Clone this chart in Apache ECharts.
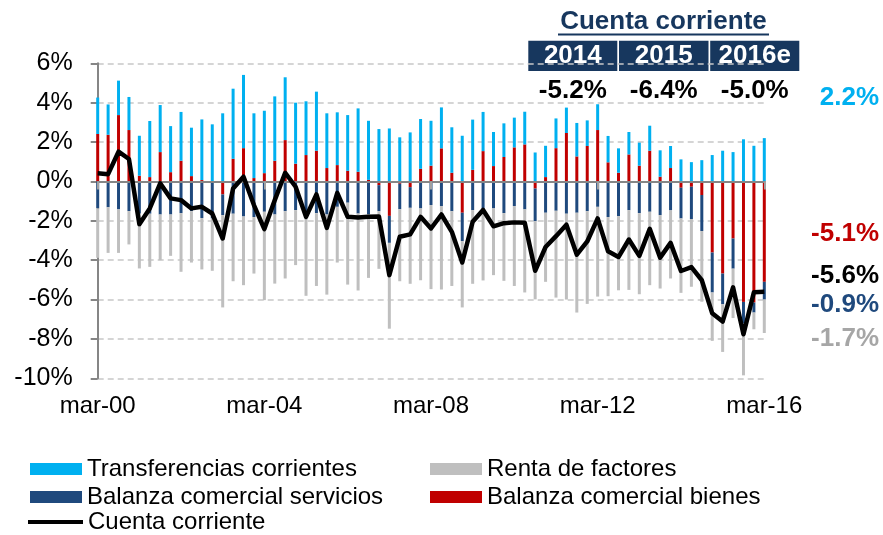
<!DOCTYPE html>
<html>
<head>
<meta charset="utf-8">
<script src="https://cdn.jsdelivr.net/npm/echarts@6/dist/echarts.min.js"></script>
<style>html,body{margin:0;padding:0;background:#fff}#c{width:883px;height:535px}</style>
</head>
<body>
<div id="c"></div>
<script>
var categories = [
 'mar-00','jun-00','sep-00','dic-00','mar-01','jun-01','sep-01','dic-01',
 'mar-02','jun-02','sep-02','dic-02','mar-03','jun-03','sep-03','dic-03',
 'mar-04','jun-04','sep-04','dic-04','mar-05','jun-05','sep-05','dic-05',
 'mar-06','jun-06','sep-06','dic-06','mar-07','jun-07','sep-07','dic-07',
 'mar-08','jun-08','sep-08','dic-08','mar-09','jun-09','sep-09','dic-09',
 'mar-10','jun-10','sep-10','dic-10','mar-11','jun-11','sep-11','dic-11',
 'mar-12','jun-12','sep-12','dic-12','mar-13','jun-13','sep-13','dic-13',
 'mar-14','jun-14','sep-14','dic-14','mar-15','jun-15','sep-15','dic-15',
 'mar-16'];

var bienes = [2.41,2.37,3.37,2.61,0.29,0.22,1.49,0.47,1.05,0.27,0.07,0,-0.66,1.15,1.69,0.17,
 0.42,1.05,2.10,0.90,1.34,1.56,0.68,0.83,0.54,0.49,0.08,-0.19,-1.75,-0.12,-0.29,0.64,
 0.80,1.68,0.44,-1.59,0.59,1.54,0.78,1.24,1.73,1.88,-0.36,0.22,1.69,2.46,1.27,1.80,
 2.61,0.97,0.44,1.37,0.80,1.56,0.24,0.68,-0.32,-0.27,-0.69,-3.61,-4.68,-2.90,-6.12,-6.15,
 -5.1];
var transferencias = [1.85,1.54,1.75,1.68,2.03,2.85,2.39,2.34,2.48,2.46,3.08,2.90,3.46,3.56,3.72,3.29,
 3.17,3.27,3.19,3.10,2.73,3.00,2.78,2.68,2.83,3.22,3.00,2.66,2.69,2.24,2.49,2.53,
 2.28,2.08,2.31,2.32,2.55,1.99,1.73,1.71,1.51,1.66,1.47,1.59,1.51,1.29,1.70,1.30,
 1.31,1.34,1.24,1.14,1.17,1.27,1.34,1.12,1.12,0.98,1.08,1.34,1.56,1.49,2.14,1.81,
 2.2];
var servicios = [-1.37,-1.31,-1.42,-1.51,-1.64,-1.64,-1.68,-1.68,-1.61,-1.51,-1.86,-1.88,-1.05,-1.64,-1.78,-1.81,
 -1.54,-1.68,-1.51,-1.46,-1.80,-1.61,-1.68,-1.29,-1.08,-1.63,-1.68,-1.32,-1.37,-1.29,-1.05,-1.37,
 -1.20,-1.25,-1.51,-1.44,-1.46,-1.51,-1.37,-1.61,-1.25,-1.42,-1.66,-1.59,-1.49,-1.64,-1.59,-1.51,
 -1.29,-1.81,-1.76,-1.46,-1.61,-1.54,-1.71,-1.47,-1.56,-1.64,-1.83,-2.03,-1.56,-1.53,-1.10,-0.51,
 -0.9];
var renta = [-2.51,-2.32,-2.21,-1.69,-2.78,-2.70,-2.32,-2.10,-2.98,-2.61,-2.61,-2.66,-4.69,-3.43,-3.49,-2.87,
 -4.49,-3.51,-3.42,-2.79,-4.01,-3.70,-4.07,-2.83,-4.16,-3.91,-3.22,-2.93,-4.36,-3.66,-3.86,-3.65,
 -4.27,-4.24,-3.80,-3.37,-3.74,-3.52,-3.39,-3.44,-4.06,-4.22,-3.97,-3.51,-4.41,-4.36,-5.07,-4.71,
 -4.56,-4.02,-3.77,-4.05,-4.12,-3.73,-3.73,-3.46,-3.78,-3.44,-3.59,-2.46,-2.42,-2.51,-2.63,-0.85,
 -1.7];
var cuenta = [0.41,0.37,1.51,1.14,-2.17,-1.37,-0.10,-0.86,-0.95,-1.37,-1.29,-1.63,-2.90,-0.36,0.24,-1.20,
 -2.42,-0.95,0.44,-0.27,-1.80,-0.66,-2.36,-0.58,-1.80,-1.83,-1.80,-1.78,-4.76,-2.81,-2.69,-1.80,
 -2.39,-1.68,-2.56,-4.12,-2.05,-1.45,-2.28,-2.12,-2.08,-2.10,-4.54,-3.33,-2.78,-2.20,-3.72,-3.05,
 -1.88,-3.55,-3.84,-2.95,-3.78,-2.41,-3.87,-3.12,-4.55,-4.35,-5.02,-6.70,-7.12,-5.38,-7.76,-5.63,
 -5.6];

var annualYears = ['2014','2015','2016e'];
var annualCC = [-5.2, -6.4, -5.0];
var yTicks = {min: -10, max: 6, interval: 2};

var C_TRANS = '#00B0F0', C_BIEN = '#C00000', C_SERV = '#1F497D', C_RENTA = '#BFBFBF', C_CC = '#000000';
var NAVY = '#17375E';
var FONT = "'Liberation Sans', Arial, sans-serif";

var chart = echarts.init(document.getElementById('c'), null, {renderer: 'canvas'});
function pct(v){ return v.toFixed(1) + '%'; }
var last = categories.length - 1;

function legendAt(name, left, top, opt){
  return Object.assign({
    data: [name], left: left, top: top, padding: 0, orient: 'horizontal',
    icon: 'rect', itemWidth: 52, itemHeight: 12, selectedMode: false,
    textStyle: {fontSize: 24, color: '#000', fontFamily: FONT}
  }, opt || {});
}

var graphics = [
  {type:'text', x: 663.5, y: 22, style:{text:'Cuenta corriente', font:'bold 26px ' + FONT, fill: NAVY, textAlign:'center', textVerticalAlign:'middle', align:'center', verticalAlign:'middle'}},
  {type:'line', shape:{x1:558, y1:34.5, x2:769, y2:34.5}, style:{stroke: NAVY, lineWidth: 2}}
];
var cells = [[528.3, 617.3], [619, 708.5], [710.2, 799.3]];
var valX = [];
annualYears.forEach(function(y, k){
  var c = cells[k], cx = (c[0] + c[1]) / 2;
  valX.push(cx);
  graphics.push({type:'rect', shape:{x:c[0], y:40.7, width:c[1]-c[0], height:30.3}, style:{fill: NAVY}});
  graphics.push({type:'text', x: cx, y: 56, style:{text: y, font:'bold 26px ' + FONT, fill:'#fff', textAlign:'center', textVerticalAlign:'middle', align:'center', verticalAlign:'middle'}});
  graphics.push({type:'text', x: cx, y: 91, style:{text: pct(annualCC[k]), font:'bold 26px ' + FONT, fill:'#000', textAlign:'center', textVerticalAlign:'middle', align:'center', verticalAlign:'middle'}});
});
var rightLabels = [
  [transferencias[last], C_TRANS, 98],
  [bienes[last], C_BIEN, 234],
  [cuenta[last], C_CC, 276],
  [servicios[last], C_SERV, 305],
  [renta[last], '#A6A6A6', 339]
];
rightLabels.forEach(function(r){
  graphics.push({type:'text', x: 879, y: r[2], style:{text: pct(r[0]), font:'bold 26px ' + FONT, fill: r[1], textAlign:'right', textVerticalAlign:'middle', align:'right', verticalAlign:'middle'}});
});

var option = {
  animation: false,
  backgroundColor: '#fff',
  grid: {left: 97.7, right: 118.7, top: 63.3, bottom: 156.7, containLabel: false},
  xAxis: [
    {type:'category', data: categories, boundaryGap: false, position:'bottom',
     axisLine:{show:false, onZero:false}, axisTick:{show:false}, splitLine:{show:false},
     axisLabel:{interval: 15, fontSize: 24, color:'#000', fontFamily: FONT, margin: 16}},
    {type:'category', data: categories, boundaryGap: false, position:'bottom', z: 3,
     axisLine:{show:true, onZero:true, lineStyle:{color:'#868686', width:2}},
     axisTick:{show:true, interval: 15, length: 8, lineStyle:{color:'#A0A0A0', width:2}},
     axisLabel:{show:false}, splitLine:{show:false}}
  ],
  yAxis: {type:'value', min: yTicks.min, max: yTicks.max, interval: yTicks.interval,
    axisLine:{show:true, lineStyle:{color:'#868686', width:2}},
    axisTick:{show:true, length: 7, lineStyle:{color:'#868686', width:2}},
    axisLabel:{formatter:'{value}%', fontSize: 25, color:'#000', fontFamily: FONT, margin: 25},
    splitLine:{show:true, lineStyle:{color:'#C8C8C8', width:1.5, type:[6,4]}}
  },
  legend: [
    legendAt('Transferencias corrientes', 30, 457),
    legendAt('Renta de factores', 430, 457),
    legendAt('Balanza comercial servicios', 30, 485),
    legendAt('Balanza comercial bienes', 430, 485),
    legendAt('Cuenta corriente', 28, 510, {itemWidth: 55, itemHeight: 4})
  ],
  series: [
    {name:'Balanza comercial bienes', type:'bar', stack:'s', data: bienes, barWidth: 3, itemStyle:{color: C_BIEN}, z: 2},
    {name:'Transferencias corrientes', type:'bar', stack:'s', data: transferencias, barWidth: 3, itemStyle:{color: C_TRANS}, z: 2},
    {name:'Balanza comercial servicios', type:'bar', stack:'s', data: servicios, barWidth: 3, itemStyle:{color: C_SERV}, z: 2},
    {name:'Renta de factores', type:'bar', stack:'s', data: renta, barWidth: 3, itemStyle:{color: C_RENTA}, z: 2},
    {name:'Cuenta corriente', type:'line', data: cuenta, symbol:'none', showSymbol:false,
     lineStyle:{color: C_CC, width: 4.5, join:'round'}, itemStyle:{color: C_CC}, z: 5}
  ],
  graphic: graphics
};
chart.setOption(option);
</script>
</body>
</html>
